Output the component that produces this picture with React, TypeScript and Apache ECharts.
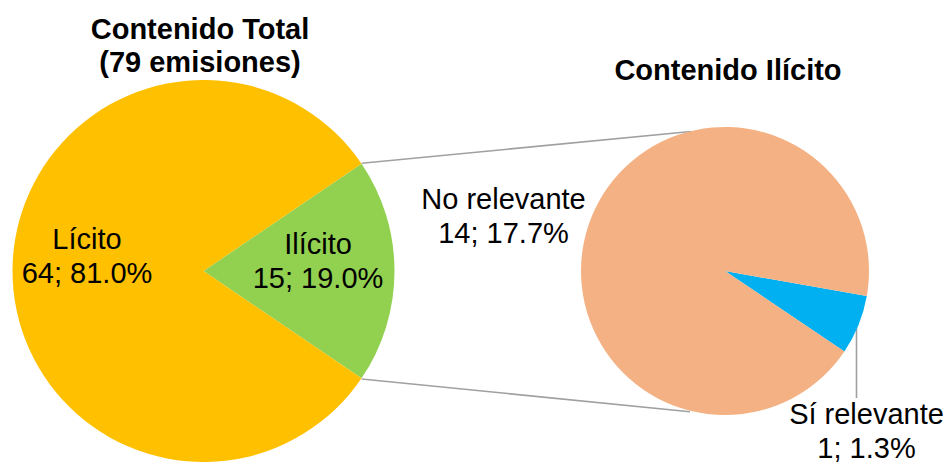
import React, { useEffect, useRef } from "react";
import * as echarts from "echarts";

const totalNames = ["Ilícito", "Lícito"];
const totalValues = [15, 64];
const totalColors = ["#92D050", "#FFC000"];

const ilicitNames = ["Sí relevante", "No relevante"];
const ilicitValues = [1, 14];
const ilicitColors = ["#00B0F0", "#F4B183"];

const titles = ["Contenido Total\n(79 emisiones)", "Contenido Ilícito"];

const FONT = "'Liberation Sans', Arial, sans-serif";

export default function App() {
  const ref = useRef<HTMLDivElement>(null);
  useEffect(() => {
    if (!ref.current) return;
    const chart = echarts.init(ref.current, undefined, { renderer: "svg" });
    const total = totalValues.reduce((a, b) => a + b, 0);
    const fmt = (p: any) =>
      `${p.name}\n${p.value}; ${((p.value / total) * 100).toFixed(1)}%`;
    const leftStart = ((360 * totalValues[0]) / total) / 2;
    const lineStyle = { stroke: "#A0A0A0", lineWidth: 1.6 };
    chart.setOption({
      animation: false,
      backgroundColor: "#ffffff",
      title: [
        {
          text: titles[0],
          left: 195,
          top: 7,
          textAlign: "center",
          textStyle: {
            fontFamily: FONT,
            fontSize: 29,
            fontWeight: "bold",
            color: "#000",
            lineHeight: 33,
          },
        },
        {
          text: titles[1],
          left: 723,
          top: 48,
          textAlign: "center",
          textStyle: {
            fontFamily: FONT,
            fontSize: 29,
            fontWeight: "bold",
            color: "#000",
            lineHeight: 33,
          },
        },
      ],
      graphic: [
        { type: "line", shape: { x1: 361.7, y1: 163.3, x2: 691, y2: 131.5 }, style: lineStyle, silent: true },
        { type: "line", shape: { x1: 361.7, y1: 379, x2: 690, y2: 411.7 }, style: lineStyle, silent: true },
        { type: "line", shape: { x1: 856.5, y1: 327, x2: 856.5, y2: 398 }, style: lineStyle, silent: true },
      ],
      series: [
        {
          type: "pie",
          center: [203.5, 271],
          radius: 191,
          startAngle: leftStart,
          clockwise: true,
          label: {
            show: true,
            position: "inside",
            formatter: fmt,
            fontFamily: FONT,
            fontSize: 29,
            lineHeight: 34,
            color: "#000",
          },
          labelLine: { show: false },
          emphasis: { disabled: true },
          data: totalNames.map((n, i) => ({
            name: n,
            value: totalValues[i],
            itemStyle: { color: totalColors[i] },
            label: { offset: i === 0 ? [16, -10] : [-18, -15] },
          })),
        },
        {
          type: "pie",
          center: [725, 271],
          radius: 144,
          startAngle: -10,
          clockwise: true,
          label: {
            show: true,
            position: "inside",
            formatter: fmt,
            fontFamily: FONT,
            fontSize: 29,
            lineHeight: 34,
            color: "#000",
            align: "center",
            overflow: "none",
          },
          labelLine: { show: false },
          labelLayout: (p: any) =>
            p.dataIndex === 0
              ? { x: 866.5, y: 431, align: "center", verticalAlign: "middle" }
              : { x: 503.5, y: 215.5, align: "center", verticalAlign: "middle" },
          emphasis: { disabled: true },
          data: ilicitNames.map((n, i) => ({
            name: n,
            value: ilicitValues[i],
            itemStyle: { color: ilicitColors[i] },
          })),
        },
      ],
    });
    return () => chart.dispose();
  }, []);
  return (
    <div
      ref={ref}
      style={{ position: "fixed", left: 0, top: 0, width: 948, height: 465 }}
    />
  );
}
